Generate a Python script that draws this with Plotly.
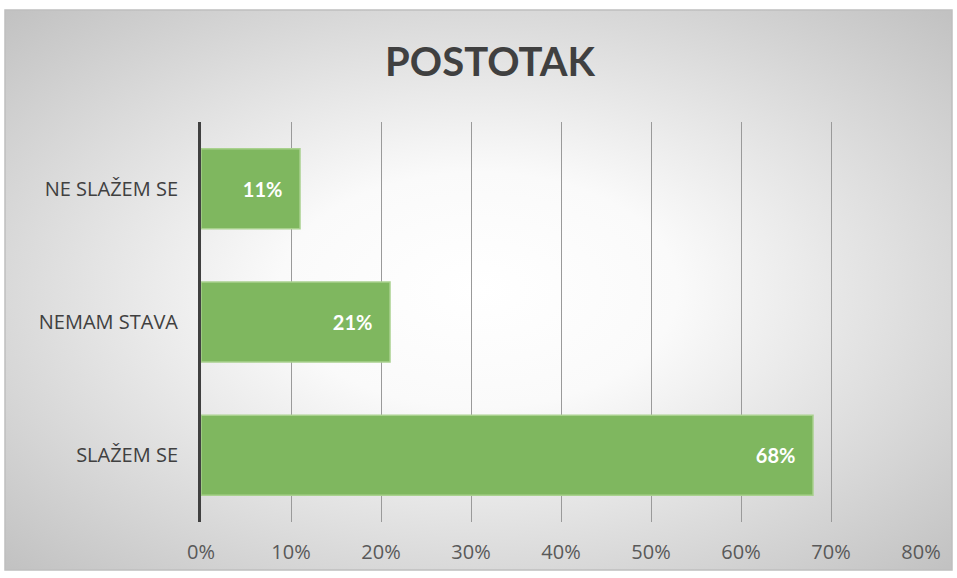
import base64
import plotly.graph_objects as go

categories = ["SLAŽEM SE", "NEMAM STAVA", "NE SLAŽEM SE"]
values = [0.68, 0.21, 0.11]
labels = ["68%", "21%", "11%"]
title = "POSTOTAK"

W, H = 957, 578

svg = f'''<svg xmlns="http://www.w3.org/2000/svg" width="{W}" height="{H}" viewBox="0 0 {W} {H}" preserveAspectRatio="none">
<defs><radialGradient id="g" cx="50%" cy="50%" r="70%">
<stop offset="0%" stop-color="#ffffff"/><stop offset="30%" stop-color="#fafafa"/>
<stop offset="100%" stop-color="#c2c2c2"/></radialGradient></defs>
<rect x="0" y="0" width="{W}" height="{H}" fill="url(#g)"/></svg>'''
uri = "data:image/svg+xml;base64," + base64.b64encode(svg.encode()).decode()

pad = "\u00a0\u00a0\u00a0"
fig = go.Figure(go.Bar(
    y=categories, x=values, orientation="h",
    marker=dict(color="#7fb75f", line=dict(color="#a9d18e", width=1.5)),
    text=[t + pad for t in labels], textposition="inside", insidetextanchor="end",
    textfont=dict(color="white", size=20, family="Lato", weight="bold"),
    width=0.6, hoverinfo="skip",
))

x0, x1 = 5, 952
y0, y1 = 10, 570
fig.add_layout_image(dict(source=uri, xref="paper", yref="paper",
    x=(x0 - 201) / 720, y=1 + (122 - y0) / 400,
    sizex=(x1 - x0) / 720, sizey=(y1 - y0) / 400,
    sizing="stretch", layer="below", xanchor="left", yanchor="top"))
fig.add_shape(type="rect", xref="paper", yref="paper",
    x0=(x0 - 201) / 720, x1=(x1 - 201) / 720,
    y0=1 - (y1 - 122) / 400, y1=1 + (122 - y0) / 400,
    line=dict(color="#bfbfbf", width=1.5), layer="below")

fig.update_layout(
    width=W, height=H,
    margin=dict(l=201, r=36, t=122, b=56),
    paper_bgcolor="white", plot_bgcolor="rgba(0,0,0,0)",
    showlegend=False,
    title=dict(text=title, x=490 / W, xanchor="center", y=1 - 62 / H, yanchor="middle",
               font=dict(family="Lato", size=40, color="#404040", weight="bold")),
    xaxis=dict(range=[0, 0.8], dtick=0.1, tickformat=".0%", showgrid=True,
               gridcolor="#9a9a9a", gridwidth=1.2, zeroline=False,
               tickfont=dict(family="Open Sans", size=20, color="#595959"),
               ticklabelstandoff=16, fixedrange=True),
    yaxis=dict(showline=True, linecolor="#404040", linewidth=3, showgrid=False,
               tickfont=dict(family="Open Sans", size=20, color="#404040"),
               ticklabelstandoff=16, range=[-0.5, 2.5], fixedrange=True),
)
fig.write_html("out.html", config={"displayModeBar": False},
               post_script="document.body.style.margin='0px';")
